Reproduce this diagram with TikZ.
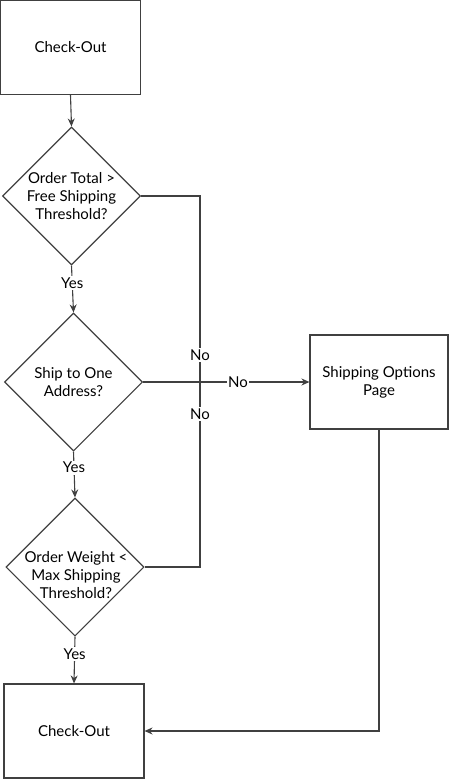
\documentclass[tikz,border=0pt]{standalone}
\usepackage{fontspec}
\setmainfont{Lato}
\usetikzlibrary{shapes.geometric,arrows.meta}
\begin{document}
\begin{tikzpicture}[x=1pt,y=-1pt,
  lbl/.style={font=\fontsize{15}{18}\selectfont, text=black},
  boxnode/.style={draw=black!75, line width=1.1pt, minimum width=140pt, minimum height=94pt, inner sep=0pt, align=center, lbl},
  decision/.style={draw=black!75, line width=1.1pt, shape=diamond, aspect=1, minimum width=138pt, minimum height=138pt, inner sep=-14pt, align=center, lbl},
  conn/.style={draw=black!75, line width=1.1pt},
  arr/.style={conn, -{Stealth[length=8pt,width=7pt]}},
  tag/.style={lbl, fill=white, inner sep=1.5pt}
]
\useasboundingbox (0,0) rectangle (450,779);
\node[boxnode] (co1) at (70.5,47.5) {Check-Out};
\node[decision] (d1) at (71.5,196) {Order Total >\\Free Shipping\\Threshold?};
\node[decision] (d2) at (73.5,382) {Ship to One\\Address?};
\node[decision] (d3) at (75,567) {};
\node[lbl, align=center, inner sep=0pt] (d3t) at (76,575) {Order Weight <\\Max Shipping\\Threshold?};
\node[boxnode] (co2) at (74,731) {Check-Out};
\node[boxnode, minimum width=138pt] (ship) at (379,382) {Shipping Options\\Page};
\coordinate (j1) at (200,196);
\coordinate (j2) at (200,567);
\coordinate (j3) at (379,731);

\draw[arr] (co1.south) -- (d1.north);
\draw[arr] (d1.south) -- node[tag, pos=0.38] (y1) {Yes} (d2.north);
\draw[arr] (d2.south) -- node[tag, pos=0.35] (y2) {Yes} (d3.north);
\draw[arr] (d3.south) -- node[tag, pos=0.38] (y3) {Yes} (co2.north);
\draw[conn] (d1.east) -- (j1) -- (j2) -- (d3.east);
\draw[arr] (d2.east) -- (ship.west);
\node[tag] (no1) at (200,355) {No};
\node[tag] (no2) at (200,414) {No};
\node[tag] (no3) at (238,382) {No};
\draw[arr] (ship.south) -- (j3) -- (co2.east);
\end{tikzpicture}
\end{document}
